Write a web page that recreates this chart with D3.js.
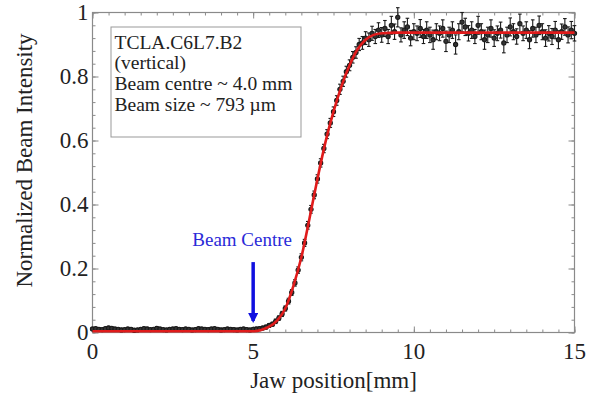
<!DOCTYPE html>
<html>
<head>
<meta charset="utf-8">
<script src="https://cdn.jsdelivr.net/npm/d3@7"></script>
<style>
  body { margin: 0; background: #fff; }
  text { font-family: "Liberation Serif", "Times New Roman", serif; }
</style>
</head>
<body>
<svg id="chart"></svg>
<script>
// scan positions: 0 .. 15 mm, step 0.1
var xStart = 0, xStep = 0.1;

// normalized intensity
var intensity = [
  0.011,0.012,0.010,0.009,0.012,0.014,0.013,0.011,0.010,0.008,
  0.009,0.011,0.010,0.007,0.008,0.010,0.012,0.011,0.009,0.010,
  0.013,0.011,0.009,0.008,0.010,0.011,0.012,0.010,0.009,0.011,
  0.010,0.008,0.009,0.012,0.011,0.010,0.009,0.011,0.012,0.010,
  0.008,0.009,0.011,0.010,0.009,0.008,0.010,0.011,0.009,0.008,
  0.010,
  0.011,0.012,0.014,0.017,0.022,0.026,0.035,0.045,0.058,0.075,
  0.098,0.125,0.155,0.195,0.235,0.280,0.335,0.385,0.430,0.480,
  0.530,0.575,0.620,0.655,0.690,0.725,0.760,0.785,0.815,0.835,
  0.860,0.875,0.900,0.905,0.920,0.915,0.935,0.925,0.945,0.930,
  0.950,0.925,0.960,0.940,0.985,0.930,0.945,0.955,0.920,0.940,
  0.935,0.950,0.925,0.945,0.930,0.915,0.940,0.935,0.950,0.910,
  0.930,0.945,0.900,0.940,0.970,0.955,0.935,0.945,0.925,0.960,
  0.940,0.915,0.930,0.950,0.920,0.935,0.945,0.905,0.930,0.955,
  0.940,0.925,0.965,0.935,0.945,0.915,0.950,0.930,0.960,0.940,
  0.920,0.935,0.925,0.945,0.915,0.940,0.955,0.930,0.945,0.935
];

var errors = [
  0.004,0.004,0.005,0.004,0.004,0.005,0.004,0.004,0.004,0.005,
  0.004,0.004,0.004,0.005,0.004,0.004,0.004,0.005,0.004,0.004,
  0.005,0.004,0.004,0.004,0.005,0.004,0.004,0.004,0.005,0.004,
  0.004,0.004,0.005,0.004,0.004,0.004,0.005,0.004,0.004,0.004,
  0.005,0.004,0.004,0.004,0.005,0.004,0.004,0.004,0.005,0.004,
  0.004,
  0.005,0.005,0.005,0.006,0.006,0.006,0.007,0.007,0.008,0.008,
  0.009,0.009,0.010,0.010,0.011,0.011,0.012,0.012,0.012,0.013,
  0.013,0.013,0.014,0.014,0.015,0.015,0.016,0.016,0.017,0.017,
  0.018,0.018,0.019,0.020,0.020,0.021,0.022,0.022,0.023,0.023,
  0.025,0.022,0.028,0.024,0.030,0.022,0.026,0.027,0.024,0.025,
  0.023,0.028,0.022,0.026,0.024,0.030,0.025,0.023,0.027,0.032,
  0.024,0.026,0.030,0.025,0.030,0.027,0.024,0.026,0.022,0.028,
  0.025,0.030,0.024,0.027,0.026,0.023,0.025,0.031,0.024,0.028,
  0.025,0.024,0.030,0.023,0.026,0.028,0.027,0.024,0.029,0.025,
  0.026,0.024,0.025,0.027,0.028,0.024,0.026,0.025,0.027,0.024
];

// fitted error-function curve
var fitX = [0, 5, 5.25, 5.5, 5.75, 6, 6.25, 6.5, 6.75, 7, 7.25, 7.5, 7.75, 8, 8.25, 8.5, 8.75, 9, 9.5, 15];
var fitY = [0.004, 0.004, 0.008, 0.018, 0.038, 0.075, 0.145, 0.235, 0.355, 0.48, 0.595, 0.69, 0.77, 0.835, 0.885, 0.915, 0.93, 0.935, 0.937, 0.937];

var xTicks = [0, 5, 10, 15];
var yTicks = [0, 0.2, 0.4, 0.6, 0.8, 1];
var yTickLabels = ["0", "0.2", "0.4", "0.6", "0.8", "1"];

var infoLines = ["TCLA.C6L7.B2", "(vertical)", "Beam centre ~ 4.0 mm", "Beam size ~ 793 \u00b5m"];
var centreLabel = "Beam Centre";
var centrePos = 5;         // mm
var arrowFrom = 0.22, arrowTo = 0.036;

// 表示サイズ
var size = { width: 594, height: 397 };
var margin = { top: 12.5, right: 19.5, bottom: 64.5, left: 92.5 };
var width = size.width - margin.left - margin.right;
var height = size.height - margin.top - margin.bottom;

var data = intensity.map(function(v, i){
  return { x: xStart + i * xStep, y: v, e: errors[i] };
});
var fit = fitX.map(function(d, i){ return { x: d, y: fitY[i] }; });

var svg = d3.select("#chart")
  .attr("width", size.width)
  .attr("height", size.height)
  .append("g")
    .attr("transform", "translate(" + margin.left + "," + margin.top + ")");

var x = d3.scaleLinear().domain([0, 15]).range([0, width]);
var y = d3.scaleLinear().domain([0, 1]).range([height, 0]);

var frameColor = "#8a8a8a";

// 枠と目盛り (inward ticks on all four sides)
function tickAxis(axisFn, scale, major, minorStep, transform){
  var minor = d3.range(scale.domain()[0], scale.domain()[1] + 1e-9, minorStep);
  var g = svg.append("g").attr("transform", transform);
  g.call(axisFn(scale).tickValues(minor).tickSize(-3).tickFormat(""));
  g.select(".domain").remove();
  var g2 = svg.append("g").attr("transform", transform);
  g2.call(axisFn(scale).tickValues(major).tickSize(-6).tickFormat(""));
  g2.select(".domain").remove();
  svg.selectAll(".tick line").attr("stroke", frameColor);
}
tickAxis(d3.axisBottom, x, xTicks, 0.5, "translate(0," + height + ")");
tickAxis(d3.axisTop, x, xTicks, 0.5, "translate(0,0)");
tickAxis(d3.axisLeft, y, yTicks, 0.04, "translate(0,0)");
tickAxis(d3.axisRight, y, yTicks, 0.04, "translate(" + width + ",0)");

svg.append("rect")
  .attr("width", width)
  .attr("height", height)
  .attr("fill", "none")
  .attr("stroke", frameColor)
  .attr("stroke-width", 1.2);

// tick labels
svg.selectAll(".xlab")
  .data(xTicks)
  .enter().append("text")
  .attr("x", function(d){ return x(d); })
  .attr("y", height + 26)
  .attr("text-anchor", "middle")
  .attr("font-size", 23)
  .attr("fill", "#222")
  .text(function(d){ return d; });

svg.selectAll(".ylab")
  .data(yTicks)
  .enter().append("text")
  .attr("x", -4)
  .attr("y", function(d){ return y(d) + 7.5; })
  .attr("text-anchor", "end")
  .attr("font-size", 23)
  .attr("fill", "#222")
  .text(function(d, i){ return yTickLabels[i]; });

// axis titles
svg.append("text")
  .attr("x", width / 2)
  .attr("y", height + 55)
  .attr("text-anchor", "middle")
  .attr("font-size", 23)
  .attr("fill", "#222")
  .text("Jaw position[mm]");

svg.append("text")
  .attr("transform", "translate(-61," + (height / 2 - 12) + ") rotate(-90)")
  .attr("text-anchor", "middle")
  .attr("font-size", 23)
  .attr("fill", "#222")
  .text("Normalized Beam Intensity");

// info box
svg.append("rect")
  .attr("x", 18.5)
  .attr("y", 14.5)
  .attr("width", 190)
  .attr("height", 110)
  .attr("fill", "#fff")
  .attr("stroke", "#999")
  .attr("stroke-width", 1);

svg.selectAll(".info")
  .data(infoLines)
  .enter().append("text")
  .attr("x", 22)
  .attr("y", function(d, i){ return 36 + i * 20.8; })
  .attr("font-size", 19.5)
  .attr("fill", "#222")
  .text(function(d){ return d; });

// data points with error bars
var pts = svg.append("g").attr("stroke", "#1a1a1a").attr("stroke-width", 1.1);
pts.selectAll(".err")
  .data(data)
  .enter().append("line")
  .attr("x1", function(d){ return x(d.x); })
  .attr("x2", function(d){ return x(d.x); })
  .attr("y1", function(d){ return y(d.y - d.e); })
  .attr("y2", function(d){ return y(d.y + d.e); });
pts.selectAll(".capt")
  .data(data)
  .enter().append("line")
  .attr("x1", function(d){ return x(d.x) - 1.8; })
  .attr("x2", function(d){ return x(d.x) + 1.8; })
  .attr("y1", function(d){ return y(d.y + d.e); })
  .attr("y2", function(d){ return y(d.y + d.e); });
pts.selectAll(".capb")
  .data(data)
  .enter().append("line")
  .attr("x1", function(d){ return x(d.x) - 1.8; })
  .attr("x2", function(d){ return x(d.x) + 1.8; })
  .attr("y1", function(d){ return y(d.y - d.e); })
  .attr("y2", function(d){ return y(d.y - d.e); });
pts.selectAll("circle")
  .data(data)
  .enter().append("circle")
  .attr("cx", function(d){ return x(d.x); })
  .attr("cy", function(d){ return y(d.y); })
  .attr("r", 2.1)
  .attr("fill", "#333");

// fit curve
var line = d3.line()
  .curve(d3.curveMonotoneX)
  .x(function(d){ return x(d.x); })
  .y(function(d){ return y(d.y); });

svg.append("path")
  .datum(fit)
  .attr("fill", "none")
  .attr("stroke", "#e01b1b")
  .attr("stroke-width", 2.6)
  .attr("d", line);

// beam centre arrow
var blue = "#1010e0";
svg.append("defs").append("marker")
  .attr("id", "arrow")
  .attr("viewBox", "0 0 10 10")
  .attr("refX", 8).attr("refY", 5)
  .attr("markerWidth", 3).attr("markerHeight", 3)
  .attr("orient", "auto")
  .append("path")
    .attr("d", "M0,0 L10,5 L0,10 z")
    .attr("fill", blue);

svg.append("line")
  .attr("x1", x(centrePos)).attr("x2", x(centrePos))
  .attr("y1", y(arrowFrom)).attr("y2", y(arrowTo))
  .attr("stroke", blue)
  .attr("stroke-width", 3.5)
  .attr("marker-end", "url(#arrow)");

svg.append("text")
  .attr("x", x(centrePos) - 11)
  .attr("y", y(arrowFrom) - 16)
  .attr("text-anchor", "middle")
  .attr("font-size", 19)
  .attr("fill", "#2a2ad8")
  .text(centreLabel);
</script>
</body>
</html>
